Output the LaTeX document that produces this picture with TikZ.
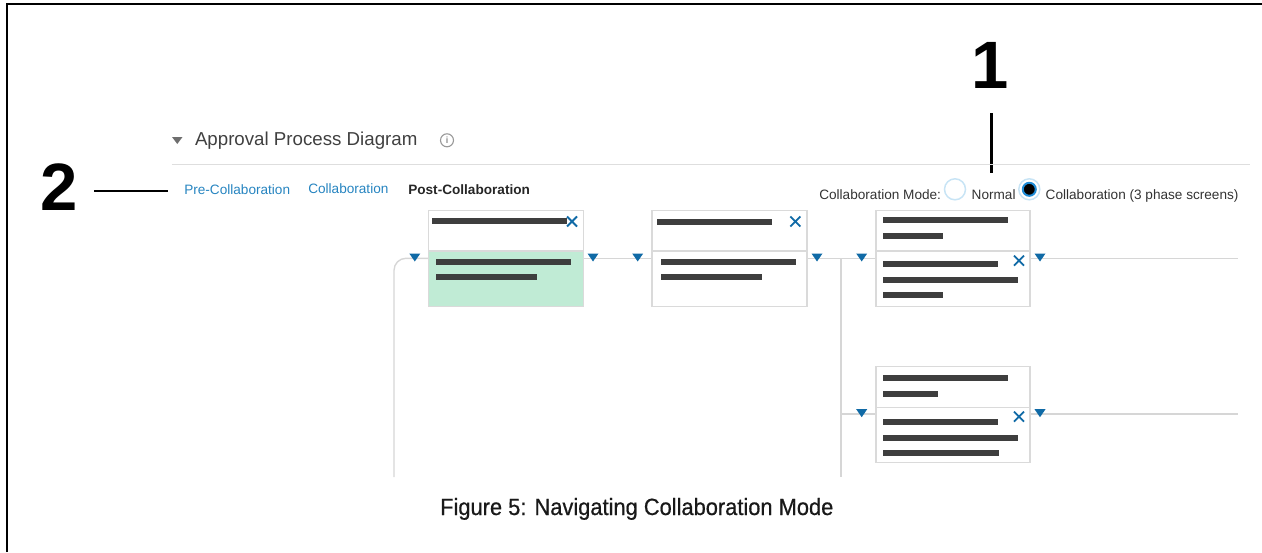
\documentclass[tikz,border=0pt]{standalone}
\usepackage{fontspec}
\setmainfont{Liberation Sans}
\newfontfamily\capfont[FakeStretch=0.93,FakeBold=0.6]{Liberation Sans}
\usetikzlibrary{calc}
\definecolor{linkblue}{RGB}{38,132,192}
\definecolor{iconblue}{RGB}{16,106,166}
\definecolor{barcol}{RGB}{62,62,62}
\definecolor{boxline}{RGB}{218,218,218}
\definecolor{connline}{RGB}{214,214,214}
\definecolor{okgreen}{RGB}{192,235,213}
\definecolor{txtgray}{RGB}{51,51,51}
\definecolor{radioring}{RGB}{200,228,245}
\definecolor{radioblue}{RGB}{30,140,215}
\definecolor{hdrgray}{RGB}{110,110,110}
\definecolor{rulegray}{RGB}{222,222,222}

\begin{document}
\begin{tikzpicture}[x=1pt,y=-1pt,
  uitext/.style={anchor=base west, inner sep=0pt, outer sep=0pt,
    font=\fontsize{13.6}{16}\selectfont, text=txtgray},
  link/.style={uitext, text=linkblue},
  boxpart/.style={draw=boxline, line width=1.3pt, fill=white,
    minimum width=155pt, inner sep=0pt, outer sep=0pt, anchor=north west},
  conn/.style={draw=connline, line width=1.4pt},
  bar/.style={fill=barcol},
  xmark/.style={draw=iconblue, line width=1.8pt},
  callout/.style={anchor=base, inner sep=0pt, font=\fontsize{67}{67}\selectfont\bfseries},
  pointer/.style={line width=2.5pt, draw=black},
  tri/.pic={\fill[iconblue] (-5.5,-4.8) -- (5.5,-4.8) -- (0,3.2) -- cycle;},
  closex/.pic={\draw[xmark] (-5,-5) -- (5,5) (-5,5) -- (5,-5);}
]
\useasboundingbox (0,0) rectangle (1262,552);

% page frame
\draw[line width=2pt] (7,552) -- (7,4.3) -- (1262,4.3);

% callouts
\node[callout] (n1) at (990,88) {1};
\node[callout] (n2) at (59.5,210.7) {2};
\coordinate (p1a) at (991.5,113);
\coordinate (p1b) at (991.5,173);
\draw[pointer] (p1a) -- (p1b);
\coordinate (p2a) at (94.3,191);
\coordinate (p2b) at (167.7,191);
\draw[pointer] (p2a) -- (p2b);

% section header
\fill[hdrgray] (172,137) -- (182.5,137) -- (177.3,144) -- cycle;
\node[uitext, font=\fontsize{18.7}{22}\selectfont, text=black!75] (title) at (195,145.7) {Approval Process Diagram};
\node[circle, draw=black!40, line width=1.1pt, minimum size=13pt, inner sep=0pt,
  font=\fontsize{9}{9}\selectfont\bfseries, text=black!45] (info) at (447,140.3) {i};
\draw[rulegray, line width=1.2pt] (171.7,164.3) -- (1250,164.3);

% phase tabs
\node[link] (pre) at (184.3,194.3) {Pre-Collaboration};
\node[link] (col) at (308.3,193.6) {Collaboration};
\node[uitext, font=\fontsize{13.6}{16}\selectfont\bfseries, text=black!85] (post) at (408.3,194) {Post-Collaboration};

% collaboration mode selector
\node[uitext] (mode) at (819.3,199) {Collaboration Mode:};
\node[circle, draw=radioring, line width=1.5pt, minimum size=21pt, inner sep=0pt] (rnorm) at (955,189.3) {};
\node[uitext] (lnorm) at (971.7,199) {Normal};
\node[circle, draw=radioring, line width=1.5pt, minimum size=21pt, inner sep=0pt] (rcol) at (1029.3,189.3) {};
\node[circle, draw=radioblue, fill=black, line width=2pt, minimum size=13pt, inner sep=0pt] (rdot) at (rcol) {};
\node[uitext] (lcol) at (1045.7,199) {Collaboration (3 phase screens)};

% reference points for the flow lines
\coordinate (y1) at (0,258.3);
\coordinate (y2) at (0,414);
\coordinate (loopbot) at (394,477);
\coordinate (split) at (841,258.3);
\coordinate (splitbot) at (841,477);
\coordinate (end1) at (1238,258.3);
\coordinate (end2) at (1238,414);

% process steps
\node[boxpart, minimum height=40.5pt] (a1) at (428.3,210.7) {};
\node[boxpart, minimum height=55.5pt, fill=okgreen] (a2) at (428.3,251) {};
\node[boxpart, minimum height=40.5pt] (b1) at (652,210.7) {};
\node[boxpart, minimum height=55.5pt] (b2) at (652,251) {};
\node[boxpart, minimum height=40.5pt, minimum width=154pt] (c1) at (876,210.7) {};
\node[boxpart, minimum height=55.5pt, minimum width=154pt] (c2) at (876,251) {};
\node[boxpart, minimum height=41pt, minimum width=154pt] (d1) at (876,366.3) {};
\node[boxpart, minimum height=55pt, minimum width=154pt] (d2) at (876,407.3) {};

% flow lines
\draw[conn, rounded corners=12pt] (loopbot) |- (a2.west |- y1);
\draw[conn] (a2.east |- y1) -- (b2.west |- y1);
\draw[conn] (b2.east |- y1) -- (c2.west |- y1);
\draw[conn] (c2.east |- y1) -- (end1);
\draw[conn] (split) -- (splitbot);
\draw[conn] (split |- y2) -- (d2.west |- y2);
\draw[conn] (d2.east |- y2) -- (end2);

% redraw box outlines over connector ends
\foreach \b in {a2,b2,c2,d2} \draw[boxline, line width=1.3pt] (\b.north west) rectangle (\b.south east);

% flow markers
\pic at ($(a2.west |- y1)+(-13.5,0)$) {tri};
\pic at ($(a2.east |- y1)+(9.7,0)$) {tri};
\pic at ($(b2.west |- y1)+(-14.3,0)$) {tri};
\pic at ($(b2.east |- y1)+(10,0)$) {tri};
\pic at ($(c2.west |- y1)+(-14.3,0)$) {tri};
\pic at ($(c2.east |- y1)+(10,0)$) {tri};
\pic at ($(d2.west |- y2)+(-14.3,0)$) {tri};
\pic at ($(d2.east |- y2)+(10,0)$) {tri};

% step A content
\fill[bar] (432.3,218.2) rectangle (567.3,224);
\pic at (572,221.5) {closex};
\fill[bar] (435.7,258.8) rectangle (570.7,264.6);
\fill[bar] (435.7,274.4) rectangle (536.7,280.2);

% step B content
\fill[bar] (656.7,219.1) rectangle (772.3,224.9);
\pic at (795.3,221.5) {closex};
\fill[bar] (661,258.8) rectangle (796,264.6);
\fill[bar] (661,274.4) rectangle (762.3,280.2);

% step C content
\fill[bar] (882.7,217.4) rectangle (1008.3,223.2);
\fill[bar] (882.7,233.1) rectangle (942.7,238.9);
\fill[bar] (882.7,261.4) rectangle (998.3,267.2);
\fill[bar] (882.7,277.1) rectangle (1017.7,282.9);
\fill[bar] (883.3,292.4) rectangle (943.3,298.2);
\pic at (1019,260.7) {closex};

% step D content
\fill[bar] (882.7,374.8) rectangle (1008.3,380.6);
\fill[bar] (882.7,390.8) rectangle (938.3,396.6);
\fill[bar] (882.7,418.8) rectangle (998.3,424.6);
\fill[bar] (882.7,434.8) rectangle (1017.7,440.6);
\fill[bar] (883.3,449.8) rectangle (999,455.6);
\pic at (1019,416.7) {closex};

% caption
\node[anchor=base west, inner sep=0pt, font=\capfont\fontsize{23.5}{26}\selectfont,
  text=black!90] (cap) at (440,515) {Figure 5: Navigating Collaboration Mode};
\end{tikzpicture}
\end{document}
